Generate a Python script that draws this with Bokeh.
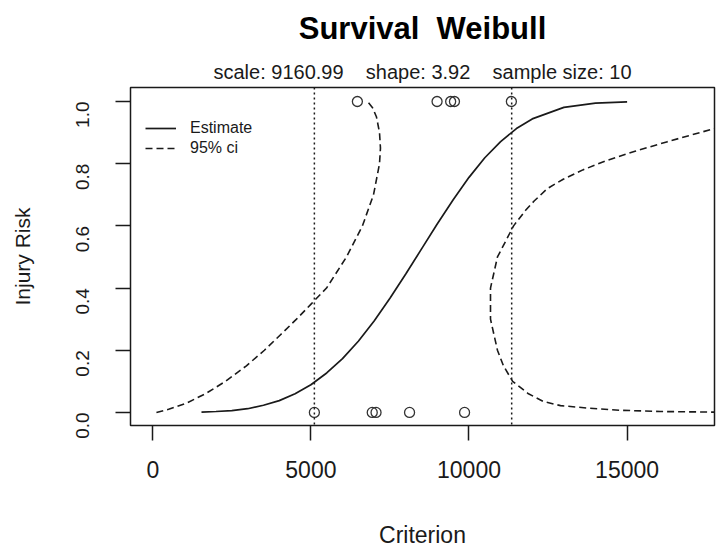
import math
from bokeh.plotting import figure
from bokeh.models import Span, Title, Legend, LegendItem, FixedTicker
from bokeh.embed import file_html
from bokeh.resources import INLINE

# ---- data ----
NB = "\u00a0"
GAP = NB * 4
main_title = "Survival" + NB + " Weibull"
sub_title = "scale: 9160.99" + GAP + "shape: 3.92" + GAP + "sample size: 10"
x_label = "Criterion"
y_label = "Injury Risk"

x_ticks = [0, 5000, 10000, 15000]
x_tick_labels = ["0", "5000", "10000", "15000"]
y_ticks = [0.0, 0.2, 0.4, 0.6, 0.8, 1.0]
y_tick_labels = ["0.0", "0.2", "0.4", "0.6", "0.8", "1.0"]

# estimate curve
est_x = [1540, 2000, 2500, 3000, 3500, 4000, 4500, 5000, 5500, 6000, 6500, 7000, 7500,
         8000, 8500, 9000, 9500, 10000, 10500, 11000, 11500, 12000, 13000, 14000, 15000]
est_y = [0.001, 0.003, 0.006, 0.012, 0.023, 0.038, 0.060, 0.089, 0.127, 0.173, 0.229, 0.294, 0.367,
         0.445, 0.526, 0.607, 0.684, 0.756, 0.819, 0.871, 0.913, 0.944, 0.981, 0.995, 0.999]

# lower 95% ci
ci_lo_x = [115, 500, 1065, 1665, 2300, 2960, 3530, 4040, 4545, 5020, 5495, 6125, 6630, 6980,
           7170, 7200, 7170, 7075, 6950, 6790]
ci_lo_y = [0.0, 0.01, 0.03, 0.06, 0.1, 0.15, 0.2, 0.25, 0.3, 0.35, 0.4, 0.5, 0.6, 0.7,
           0.8, 0.85, 0.9, 0.95, 0.98, 1.0]

# upper 95% ci
ci_hi_x = [19000, 17764, 16950, 16250, 15250, 14350, 13600, 12980, 12480, 12060, 11790, 11560,
           11410, 10900, 10680, 10680, 10900, 11090, 11380, 11880, 12360, 12895, 13750, 14790,
           16055, 17764, 19000]
ci_hi_y = [0.93, 0.913, 0.89, 0.87, 0.84, 0.81, 0.78, 0.75, 0.72, 0.68, 0.65, 0.62,
           0.6, 0.5, 0.4, 0.3, 0.2, 0.15, 0.1, 0.06, 0.035, 0.022, 0.014, 0.007,
           0.003, 0.001, 0.0005]

# observed data
obs0_x = [5110, 6940, 7060, 8120, 9860]
obs0_y = [0, 0, 0, 0, 0]
obs1_x = [6470, 8990, 9420, 9540, 11340]
obs1_y = [1, 1, 1, 1, 1]

# reference quantile lines (10% and 90%)
vlines = [5110, 11350]

legend_labels = ["Estimate", "95% ci"]

FONT = "Liberation Sans"
INK = "#1a1a1a"

p = figure(frame_width=584, frame_height=338, x_range=(-705, 17764), y_range=(-0.042, 1.045),
           output_backend="svg", toolbar_location=None, title=None,
           min_border_left=130, min_border_right=2, min_border_top=86, min_border_bottom=20)

p.add_layout(Title(text=sub_title, align="center", text_font=FONT, text_font_size="20px",
                   text_font_style="normal", text_color=INK, standoff=10), "above")
p.add_layout(Title(text=main_title, align="center", text_font=FONT, text_font_size="31px",
                   text_font_style="bold", text_color="#000", standoff=16), "above")

p.background_fill_color = "white"
p.border_fill_color = "white"
p.outline_line_color = INK
p.outline_line_width = 1.5
p.xgrid.visible = False
p.ygrid.visible = False

for ax in (p.xaxis[0], p.yaxis[0]):
    ax.axis_line_color = None
    ax.major_tick_in = 0
    ax.major_tick_out = 15
    ax.major_tick_line_width = 1.5
    ax.major_tick_line_color = INK
    ax.minor_tick_line_color = None
    ax.major_label_text_font = FONT
    ax.major_label_text_color = INK
    ax.axis_label_text_font = FONT
    ax.axis_label_text_font_style = "normal"
    ax.axis_label_text_color = INK

p.xaxis.ticker = FixedTicker(ticks=x_ticks)
p.xaxis.major_label_overrides = dict(zip(x_ticks, x_tick_labels))
p.xaxis.major_label_text_font_size = "23px"
p.xaxis.major_label_standoff = 20
p.xaxis.axis_label = x_label
p.xaxis.axis_label_text_font_size = "23px"
p.xaxis.axis_label_standoff = 41

p.yaxis.ticker = FixedTicker(ticks=y_ticks)
p.yaxis.major_label_overrides = dict(zip(y_ticks, y_tick_labels))
p.yaxis.major_label_text_font_size = "19px"
p.yaxis.major_label_orientation = math.pi / 2
p.yaxis.major_label_standoff = 33
p.yaxis.axis_label = y_label
p.yaxis.axis_label_text_font_size = "21px"
p.yaxis.axis_label_standoff = 33

for v in vlines:
    p.add_layout(Span(location=v, dimension="height", line_color=INK, line_width=1.5,
                      line_dash="2 3"))

r_est = p.line(est_x, est_y, line_color=INK, line_width=1.7)
r_lo = p.line(ci_lo_x, ci_lo_y, line_color=INK, line_width=1.6, line_dash="7 4")
p.line(ci_hi_x, ci_hi_y, line_color=INK, line_width=1.6, line_dash="7 4")

p.scatter(obs0_x, obs0_y, marker="circle", size=10, fill_color=None, line_color="#333",
          line_width=1.3)
p.scatter(obs1_x, obs1_y, marker="circle", size=10, fill_color=None, line_color="#333",
          line_width=1.3)

legend = Legend(items=[LegendItem(label=legend_labels[0], renderers=[r_est]),
                       LegendItem(label=legend_labels[1], renderers=[r_lo])],
                location=(15, 267), border_line_color=None, background_fill_alpha=0,
                padding=0, margin=0, spacing=0, glyph_width=31, glyph_height=20,
                label_height=20, label_standoff=14, label_text_font=FONT,
                label_text_font_size="16px", label_text_color=INK)
p.add_layout(legend)

open("out.html", "w").write(file_html(p, INLINE))
